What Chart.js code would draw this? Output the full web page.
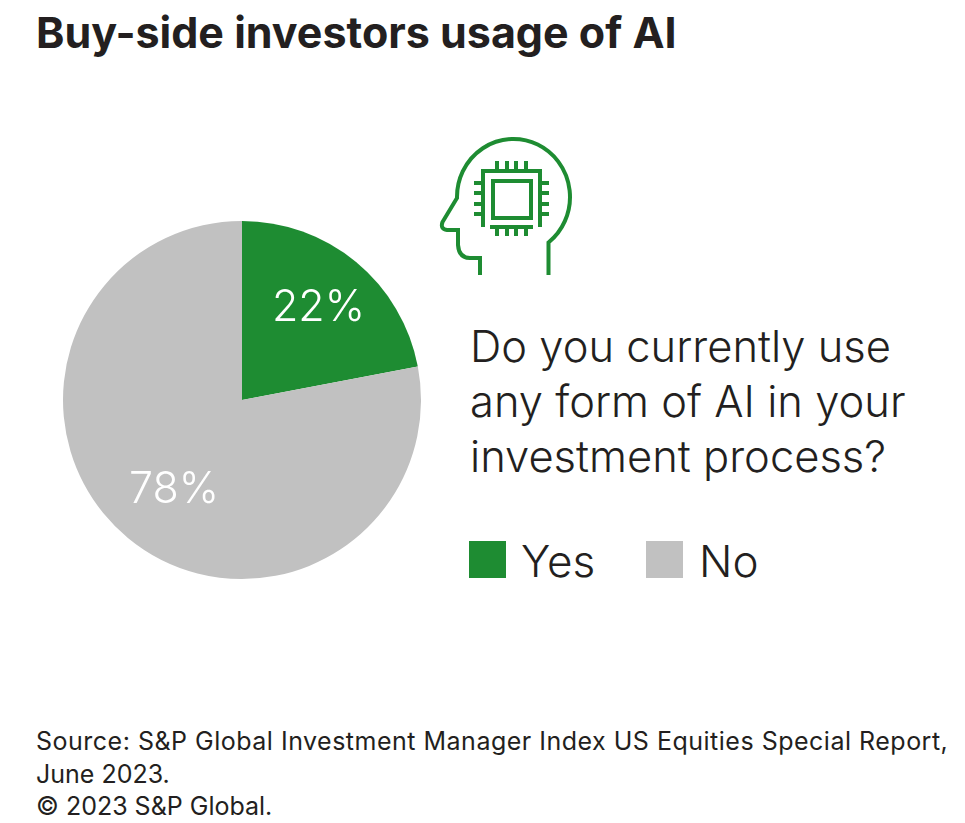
<!DOCTYPE html>
<html>
<head>
<meta charset="utf-8">
<script src="https://cdn.jsdelivr.net/npm/chart.js@4"></script>
<style>
    html, body { margin: 0; padding: 0; background: #fff; }
    #page { position: relative; width: 965px; height: 823px; overflow: hidden; color: #231f20; font-family: Inter, sans-serif; }
    #page div { position: absolute; white-space: nowrap; }
    #title { left: 36px; top: 8px; font-size: 43px; line-height: 48px; font-weight: 700; }
    #pieWrap { left: 57.5px; top: 216px; width: 368px; height: 368px; }
    #question { left: 470px; top: 319px; font-size: 43.5px; line-height: 55px; font-weight: 300; }
    .swatch { top: 541px; width: 37px; height: 37px; }
    .legendText { top: 534px; font-size: 44px; line-height: 55px; font-weight: 300; }
    #source { left: 36px; top: 725px; font-size: 25px; line-height: 32.5px; }
    svg { position: absolute; left: 0; top: 0; }
</style>
</head>
<body>
<div id="page">
    <div id="title">Buy-side investors usage of AI</div>
    <svg width="965" height="823" fill="none" stroke="#1e8c32" stroke-width="4">
        <path d="M548.5 275V242.5A56.5 58 0 1 0 457 198L442.5 222Q440 229 447 230H458V245Q459 258 470 258H480V275"/>
        <path d="M483 227V171H540V227M490 227H533"/>
        <rect x="493" y="181" width="38" height="37"/>
        <path d="M497 161V171M507 161V171M516 161V171M526 161V171"/>
        <path d="M497 227V236M507 227V236M516 227V236M526 227V236"/>
        <path d="M474 183H483M474 193H483M474 204H483M474 214H483"/>
        <path d="M540 183H549M540 193H549M540 204H549M540 214H549"/>
    </svg>
    <div id="pieWrap"><canvas id="pieChart"></canvas></div>
    <div id="question">Do you currently use<br>any form of AI in your<br>investment process?</div>
    <div class="swatch" id="swatchYes" style="left:469px"></div>
    <div class="legendText" id="labelYes" style="left:521px"></div>
    <div class="swatch" id="swatchNo" style="left:646px"></div>
    <div class="legendText" id="labelNo" style="left:699px"></div>
    <div id="source"><span style="letter-spacing:.5px">Source: S&amp;P Global Investment Manager Index US Equities Special Report,</span><br>June 2023.<br>© 2023 S&amp;P Global.</div>
</div>
<script>
const categories = ['Yes', 'No'];
const shares = [22, 78];
const sliceColors = ['#1e8c32', '#c1c1c1'];

// Percent labels on the slices
const sliceLabels = {
    id: 'sliceLabels',
    afterDatasetsDraw(chart) {
        const ctx = chart.ctx;
        ctx.save();
        ctx.fillStyle = '#fff';
        ctx.font = '300 43px Inter';
        ctx.textAlign = 'center';
        ctx.textBaseline = 'middle';
        chart.getDatasetMeta(0).data.forEach((arc, i) => {
            const mid = (arc.startAngle + arc.endAngle) / 2;
            const r = arc.outerRadius * (i === 0 ? 0.67 : 0.63);
            // the 78% sits a little off the slice's middle line
            const nudgeX = i === 1 ? 4 : 0;
            const nudgeY = i === 1 ? 3 : 0;
            ctx.fillText(shares[i] + '%', arc.x + Math.cos(mid) * r + nudgeX, arc.y + Math.sin(mid) * r + nudgeY);
        });
        ctx.restore();
    }
};

new Chart(document.getElementById('pieChart'), {
    type: 'pie',
    data: {
        labels: categories,
        datasets: [{
            data: shares,
            backgroundColor: sliceColors,
            borderWidth: 0
        }]
    },
    options: {
        responsive: true,
        maintainAspectRatio: false,
        animation: false,
        radius: 179,
        plugins: {
            legend: { display: false },
            tooltip: { enabled: false }
        }
    },
    plugins: [sliceLabels]
});

// Legend beside the chart
document.getElementById('swatchYes').style.background = sliceColors[0];
document.getElementById('swatchNo').style.background = sliceColors[1];
document.getElementById('labelYes').textContent = categories[0];
document.getElementById('labelNo').textContent = categories[1];
</script>
</body>
</html>
